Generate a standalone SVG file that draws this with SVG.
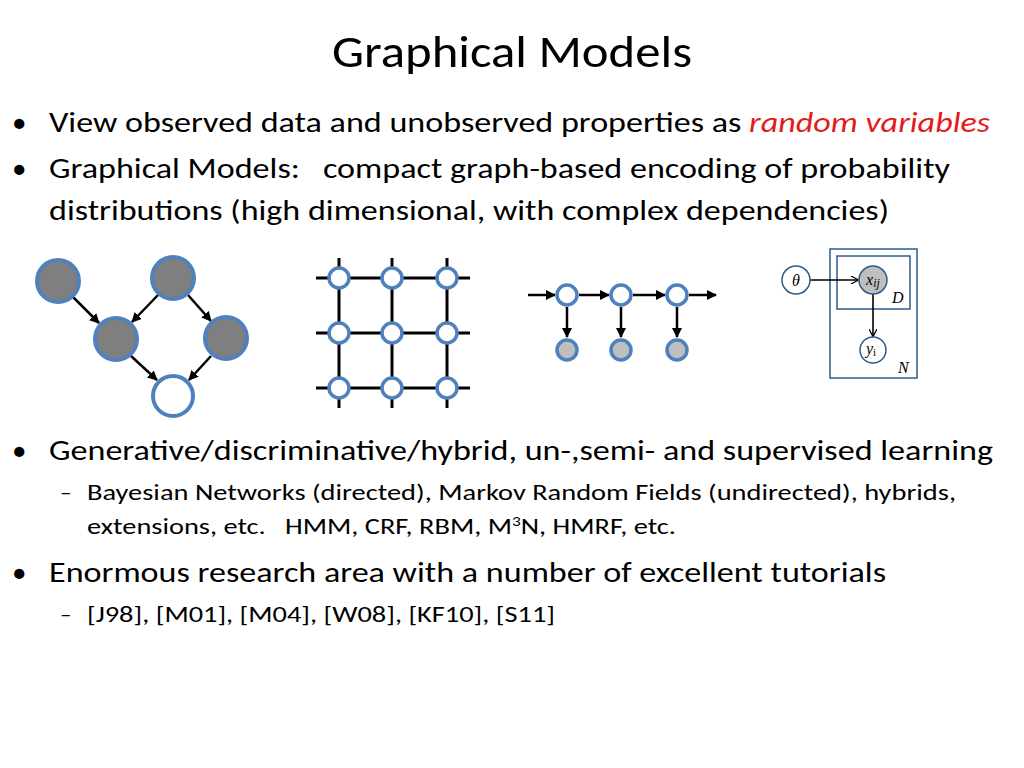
<svg xmlns="http://www.w3.org/2000/svg" width="1024" height="768" viewBox="0 0 1024 768">
<style>
text{font-family:Carlito,"Liberation Sans",Arial,sans-serif;fill:#000}
.b{font-size:29px}.s{font-size:23px}
.ln{stroke:#000;stroke-width:3;fill:none}
.ar{stroke:#000;stroke-width:2.5;fill:none;marker-end:url(#ah)}
.ar2{stroke:#000;stroke-width:1.6;fill:none;marker-end:url(#ah2)}
.dk{fill:#7f7f7f;stroke:#4f81bd;stroke-width:4}
.wh{fill:#fff;stroke:#4f81bd;stroke-width:4}
.sm{fill:#fff;stroke:#4f81bd;stroke-width:3.5}
.lg{fill:#bfbfbf;stroke:#4f81bd;stroke-width:3.5}
.pl{fill:#fff;stroke:#2e5c8a;stroke-width:1.5}
.m{font-family:"Liberation Serif",serif;font-style:italic;font-size:16px}
</style>
<defs>
<marker id="ah" viewBox="0 0 10 10" refX="9" refY="5" markerWidth="4" markerHeight="4" orient="auto"><path d="M0,0L10,5L0,10z" fill="#000"/></marker>
<marker id="ah2" viewBox="0 0 10 10" refX="9" refY="5" markerWidth="5" markerHeight="5" orient="auto"><path d="M0,0L10,5L0,10" fill="none" stroke="#000" stroke-width="1.5"/></marker>
</defs>
<text x="332" y="67" textLength="360" lengthAdjust="spacingAndGlyphs" style="font-size:46px">Graphical Models</text>
<text x="12" y="132" class="b">•</text>
<text x="49" y="132" class="b" textLength="941" lengthAdjust="spacingAndGlyphs">View observed data and unobserved properties as <tspan fill="#e31b1b" font-style="italic">random variables</tspan></text>
<text x="12" y="178" class="b">•</text>
<text x="49" y="178" class="b" xml:space="preserve" textLength="901" lengthAdjust="spacingAndGlyphs">Graphical Models:   compact graph-based encoding of probability</text>
<text x="49" y="220" class="b" textLength="840" lengthAdjust="spacingAndGlyphs">distributions (high dimensional, with complex dependencies)</text>
<text x="12" y="460" class="b">•</text>
<text x="49" y="460" class="b" textLength="944" lengthAdjust="spacingAndGlyphs">Generative/discriminative/hybrid, un-,semi- and supervised learning</text>
<text x="60" y="500" class="s">–</text>
<text x="87" y="500" class="s" textLength="869" lengthAdjust="spacingAndGlyphs">Bayesian Networks (directed), Markov Random Fields (undirected), hybrids,</text>
<text x="87" y="534" class="s" xml:space="preserve" textLength="589" lengthAdjust="spacingAndGlyphs">extensions, etc.   HMM, CRF, RBM, M<tspan font-size="14" dy="-8">3</tspan><tspan dy="8">N, HMRF, etc.</tspan></text>
<text x="12" y="582" class="b">•</text>
<text x="49" y="582" class="b" textLength="837" lengthAdjust="spacingAndGlyphs">Enormous research area with a number of excellent tutorials</text>
<text x="60" y="622" class="s">–</text>
<text x="87" y="622" class="s" textLength="468" lengthAdjust="spacingAndGlyphs">[J98], [M01], [M04], [W08], [KF10], [S11]</text>
<g id="connectors">
<line class="ar" x1="73" y1="297" x2="99" y2="323"/>
<line class="ar" x1="158" y1="295" x2="132" y2="322"/>
<line class="ar" x1="188" y1="295" x2="211" y2="321"/>
<line class="ar" x1="131" y1="356" x2="157" y2="380"/>
<line class="ar" x1="211" y1="356" x2="189" y2="380"/>
<line class="ln" x1="316" y1="278" x2="470" y2="278"/>
<line class="ln" x1="316" y1="333" x2="470" y2="333"/>
<line class="ln" x1="316" y1="388" x2="470" y2="388"/>
<line class="ln" x1="339" y1="258" x2="339" y2="408"/>
<line class="ln" x1="392" y1="258" x2="392" y2="408"/>
<line class="ln" x1="447" y1="258" x2="447" y2="408"/>
<line class="ar" x1="528" y1="295" x2="555" y2="295"/>
<line class="ar" x1="579" y1="295" x2="609" y2="295"/>
<line class="ar" x1="633" y1="295" x2="665" y2="295"/>
<line class="ar" x1="689" y1="295" x2="716" y2="295"/>
<line class="ar" x1="567" y1="307" x2="567" y2="337"/>
<line class="ar" x1="621" y1="307" x2="621" y2="337"/>
<line class="ar" x1="677" y1="307" x2="677" y2="337"/>
</g>
<g id="plate">
<rect class="pl" x="830" y="249" width="87" height="129"/>
<rect class="pl" x="837" y="256" width="73" height="53"/>
<text x="892" y="303" class="m">D</text>
<text x="898" y="373" class="m">N</text>
</g>
<g id="plate-connectors">
<line class="ar2" x1="810" y1="280" x2="858" y2="280"/>
<line class="ar2" x1="873" y1="294" x2="873" y2="336"/>
</g>
<g id="bn1"><circle class="dk" cx="58" cy="281" r="21"/></g>
<g id="bn2"><circle class="dk" cx="173" cy="278" r="21"/></g>
<g id="bn3"><circle class="dk" cx="116" cy="339" r="21"/></g>
<g id="bn4"><circle class="dk" cx="226" cy="338" r="21"/></g>
<g id="bn5"><circle class="wh" cx="173" cy="396" r="20"/></g>
<g id="grid">
<circle class="sm" cx="339" cy="278" r="10"/><circle class="sm" cx="392" cy="278" r="10"/><circle class="sm" cx="447" cy="278" r="10"/>
<circle class="sm" cx="339" cy="333" r="10"/><circle class="sm" cx="392" cy="333" r="10"/><circle class="sm" cx="447" cy="333" r="10"/>
<circle class="sm" cx="339" cy="388" r="10"/><circle class="sm" cx="392" cy="388" r="10"/><circle class="sm" cx="447" cy="388" r="10"/>
</g>
<g id="hmm">
<circle class="sm" cx="567" cy="295" r="10"/><circle class="sm" cx="621" cy="295" r="10"/><circle class="sm" cx="677" cy="295" r="10"/>
<circle class="lg" cx="567" cy="350" r="10"/><circle class="lg" cx="621" cy="350" r="10"/><circle class="lg" cx="677" cy="350" r="10"/>
</g>
<g id="theta"><circle cx="796" cy="280" r="14" fill="#fff" stroke="#2e5c8a" stroke-width="1.5"/><text x="796" y="286" class="m" text-anchor="middle">θ</text></g>
<g id="xij"><circle cx="873" cy="280" r="14" fill="#bfbfbf" stroke="#2e5c8a" stroke-width="1.5"/><text x="873" y="285" class="m" text-anchor="middle">x<tspan font-size="12" dy="2">ij</tspan></text></g>
<g id="yi"><circle cx="873" cy="350" r="13" fill="#fff" stroke="#2e5c8a" stroke-width="1.5"/><text x="871" y="354" class="m" text-anchor="middle">y<tspan font-size="11" dy="2" font-style="normal">i</tspan></text></g>
</svg>
